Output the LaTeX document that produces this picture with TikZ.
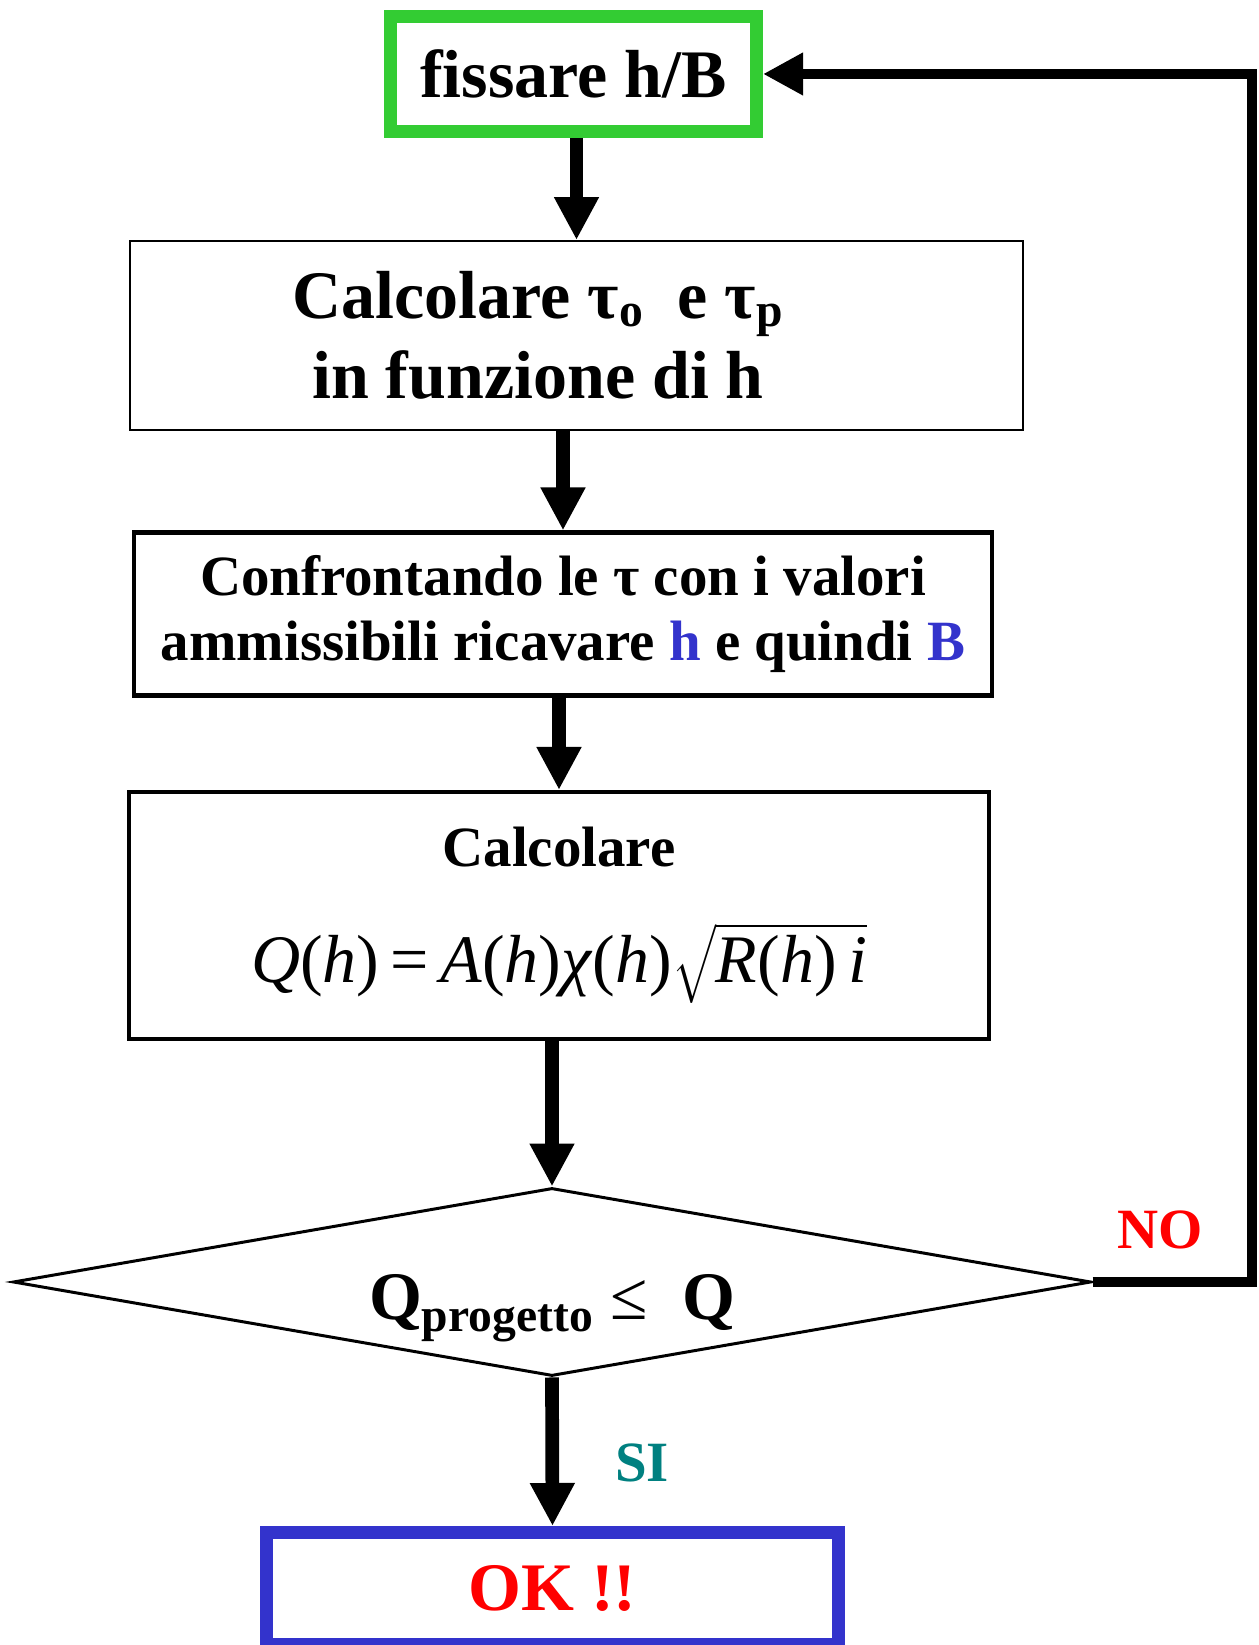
\documentclass[tikz,border=0pt]{standalone}
\usepackage{amsmath}
\usepackage{fontspec}
\setmainfont{Liberation Serif}
\usepackage{xcolor}
\usepackage{tikz}
\usetikzlibrary{arrows.meta,shapes.geometric}

\definecolor{stepgreen}{RGB}{51,204,51}
\definecolor{stepblue}{RGB}{51,51,204}
\definecolor{siteal}{RGB}{0,128,128}
\newcommand{\bigtxt}{\fontsize{38.7}{45.5}\selectfont\bfseries}
\newcommand{\midtxt}{\fontsize{32.4}{37}\selectfont\bfseries}

\begin{document}
\begin{tikzpicture}[
  box/.style={draw, align=center, inner sep=0pt},
  endpt/.style={box, line width=7.4pt, font=\bigtxt},
  gate/.style={diamond, draw, aspect=5.7, line width=1.7pt, inner sep=0pt, minimum width=21.56cm, minimum height=3.76cm},
  arr/.style={-{Triangle[length=8.6mm,width=8.4mm]}, line width=7.8pt},
  retarr/.style={-{Triangle[length=8mm,width=8mm]}, line width=6pt},
  lab/.style={font=\midtxt},
]
\useasboundingbox (0,0) rectangle (25.18,32.9);
\node[endpt, draw=stepgreen, minimum width=7.32cm, minimum height=2.3cm] (fix) at (11.47,31.42) {fissare h/B};
\node[box, line width=1.1pt, minimum width=17.86cm, minimum height=3.78cm] (calc) at (11.53,26.19) {};
\node[font=\bigtxt, align=center] (calctxt) at (10.76,26.19) {Calcolare τ\textsubscript{o}\ \ e τ\textsubscript{p}\\in funzione di h};
\node[box, line width=2.3pt, minimum width=17.16cm, minimum height=3.26cm, font=\midtxt] (cmp) at (11.26,20.62) {Confrontando le τ con i valori\\ammissibili ricavare \textcolor{stepblue}{h} e quindi \textcolor{stepblue}{B}};
\node[box, line width=2.3pt, minimum width=17.2cm, minimum height=4.94cm, font=\midtxt] (qcalc) at (11.18,14.59) {Calcolare\\[29pt]{\bigtxt\mdseries\textit{Q}(\textit{h})\,=\,\textit{A}(\textit{h})\textit{χ}(\textit{h})$\sqrt{\mbox{\textit{R}(\textit{h})\,\textit{i}}}$}};
\node[gate] (dia) at (11.04,7.26) {};
\node[font=\bigtxt, anchor=base] (diatxt) at (11.04,6.5) {Q\textsubscript{progetto} {\mdseries ≤}\ \ Q};
\node[endpt, draw=stepblue, text=red, minimum width=11.44cm, minimum height=2.25cm] (ok) at (11.05,1.125) {OK !!};
\coordinate (turn) at (25.04,31.42);
\node[lab, text=red] (no) at (23.2,8.3) {NO};
\node[lab, text=siteal] (si) at (12.84,3.64) {SI};
\draw[arr] (calc.north |- fix.south) -- (calc.north);
\draw[arr] (cmp.north |- calc.south) -- (cmp.north);
\draw[arr] (qcalc.north |- cmp.south) -- (qcalc.north);
\draw[arr] (dia.north |- qcalc.south) -- (dia.north);
\draw[arr] (dia.south) -- (ok.north);
\draw[retarr] (dia.east) -| (turn) -- (fix.east);
\end{tikzpicture}
\end{document}
